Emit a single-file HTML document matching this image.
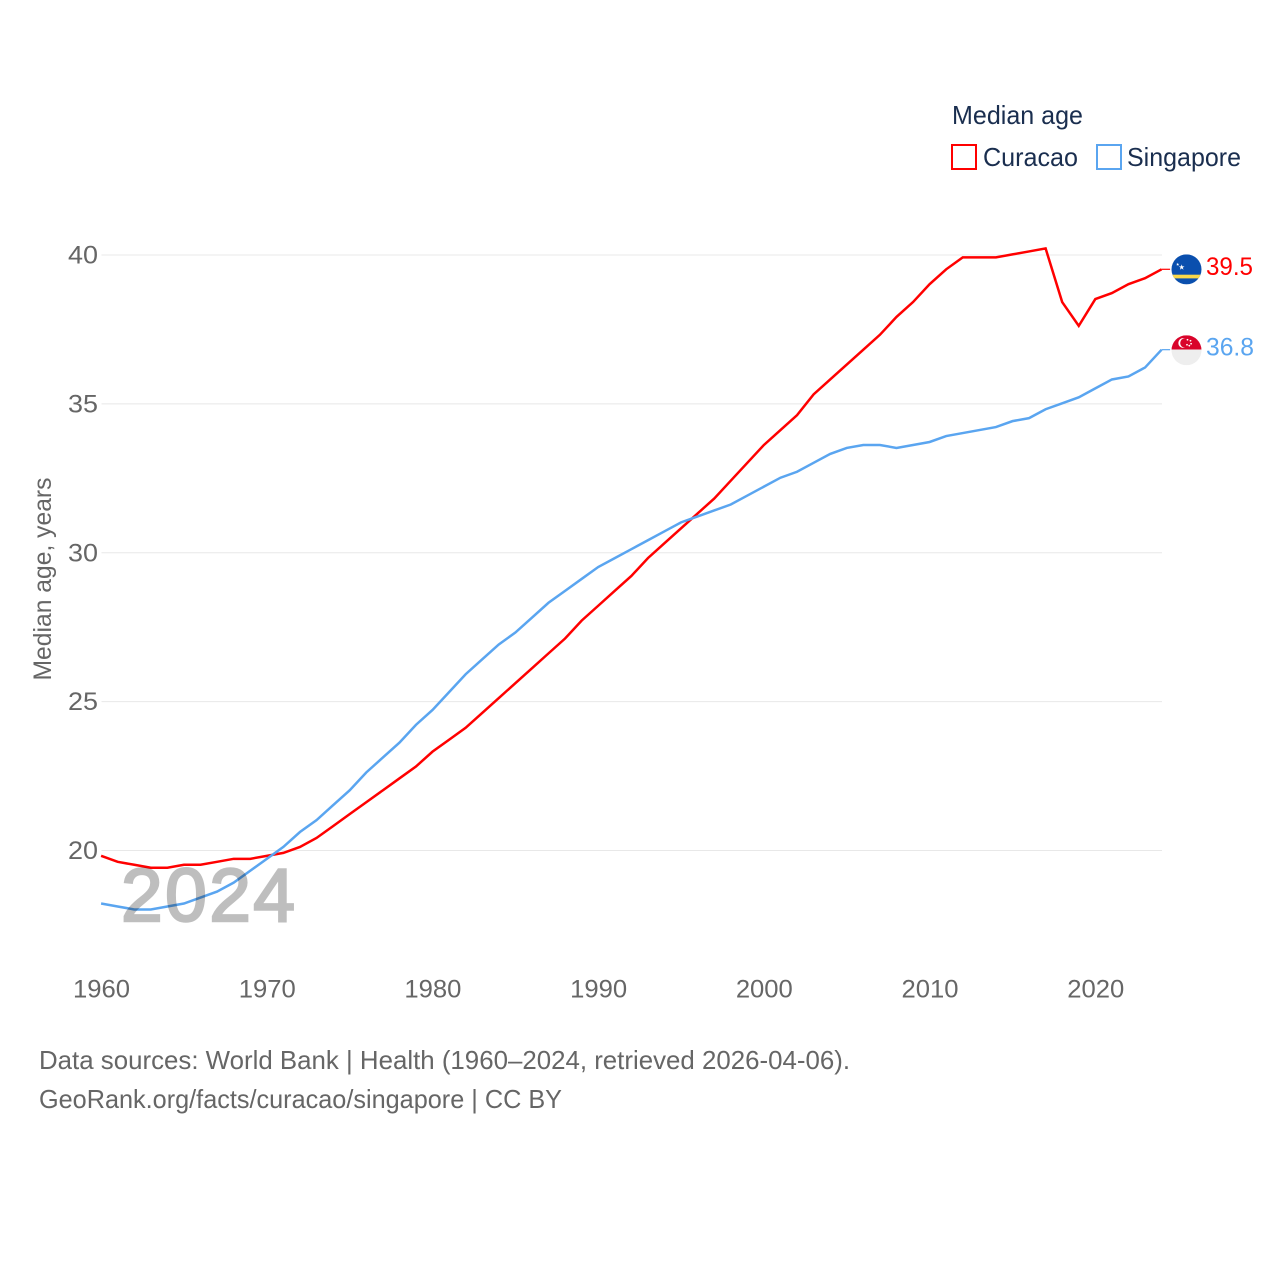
<!DOCTYPE html>
<html>
<head>
<meta charset="utf-8">
<title>Median age: Curacao and Singapore</title>
<style>
html,body{margin:0;padding:0;background:#fff;width:1280px;height:1280px;overflow:hidden}
svg{display:block}
text{font-family:"Liberation Sans",sans-serif}
</style>
</head>
<body>
<svg id="chart" xmlns="http://www.w3.org/2000/svg" width="1280" height="1280" viewBox="0 0 1280 1280">
  <defs>
    <clipPath id="flag-clip"><circle cx="0" cy="0" r="15"></circle></clipPath>
  </defs>
  <g id="grid"></g>
  <g id="y-ticks"></g>
  <g id="x-ticks"></g>
  <text transform="translate(51,579) rotate(-90)" text-anchor="middle" font-size="25" fill="#666" textLength="203" lengthAdjust="spacingAndGlyphs">Median age, years</text>
  <g id="series" transform="translate(-0.4,-0.6)"></g>
  <text id="year-label" x="121" y="921" font-size="75" fill="#000" stroke="#000" stroke-width="2.4" opacity="0.25" textLength="174" lengthAdjust="spacing">2024</text>
  <g id="flag-curacao">
    <g clip-path="url(#flag-clip)">
      <rect x="-15" y="-15" width="30" height="30" fill="#0a4fae"></rect>
      <rect x="-15" y="5.3" width="30" height="3.7" fill="#f9d84a"></rect>
      <polygon points="-4.8,-5 -4.1,-3 -2,-3 -3.7,-1.8 -3,0.3 -4.8,-1 -6.6,0.3 -5.9,-1.8 -7.6,-3 -5.5,-3" fill="#fff"></polygon>
      <polygon points="-8.8,-6.6 -8.4,-5.5 -7.2,-5.5 -8.2,-4.8 -7.8,-3.6 -8.8,-4.3 -9.8,-3.6 -9.4,-4.8 -10.4,-5.5 -9.2,-5.5" fill="#fff"></polygon>
    </g>
  </g>
  <g id="flag-singapore">
    <g clip-path="url(#flag-clip)">
      <rect x="-15" y="-15" width="30" height="14.3" fill="#d9042b"></rect>
      <rect x="-15" y="-0.7" width="30" height="15.7" fill="#eeeeee"></rect>
      <circle cx="-3.2" cy="-7.3" r="5" fill="#fff"></circle>
      <circle cx="-1.5" cy="-7.3" r="4.8" fill="#d9042b"></circle>
      <circle cx="1" cy="-10.5" r="0.9" fill="#fff"></circle>
      <circle cx="4" cy="-9.5" r="0.9" fill="#fff"></circle>
      <circle cx="4.6" cy="-6.5" r="0.9" fill="#fff"></circle>
      <circle cx="0.5" cy="-5.5" r="0.9" fill="#fff"></circle>
      <circle cx="2.8" cy="-4.6" r="0.9" fill="#fff"></circle>
    </g>
  </g>
  <text id="value-curacao" x="1206" font-size="25" fill="#ff0000" textLength="47" lengthAdjust="spacingAndGlyphs"></text>
  <text id="value-singapore" x="1206" font-size="25" fill="#5aa5f0" textLength="48" lengthAdjust="spacingAndGlyphs"></text>
  <g>
    <text x="952" y="124" font-size="26" fill="#1a2e4f" textLength="131" lengthAdjust="spacingAndGlyphs">Median age</text>
    <g>
      <rect x="952" y="145" width="24" height="24" fill="none" stroke="#ff0000" stroke-width="2"></rect>
      <text x="983" y="166" font-size="26" fill="#1a2e4f" textLength="95" lengthAdjust="spacingAndGlyphs">Curacao</text>
    </g>
    <g>
      <rect x="1097" y="145" width="24" height="24" fill="none" stroke="#5aa5f0" stroke-width="2"></rect>
      <text x="1127" y="166" font-size="26" fill="#1a2e4f" textLength="114" lengthAdjust="spacingAndGlyphs">Singapore</text>
    </g>
  </g>
  <text x="39" y="1069" font-size="26" fill="#666" textLength="811" lengthAdjust="spacingAndGlyphs">Data sources: World Bank | Health (1960–2024, retrieved 2026-04-06).</text>
  <text x="39" y="1108" font-size="26" fill="#666" textLength="523" lengthAdjust="spacingAndGlyphs">GeoRank.org/facts/curacao/singapore | CC BY</text>
</svg>
<script>
const startYear = 1960;
const curacaoValues = [19.8,19.6,19.5,19.4,19.4,19.5,19.5,19.6,19.7,19.7,19.8,19.9,20.1,20.4,20.8,21.2,21.6,22.0,22.4,22.8,23.3,23.7,24.1,24.6,25.1,25.6,26.1,26.6,27.1,27.7,28.2,28.7,29.2,29.8,30.3,30.8,31.3,31.8,32.4,33.0,33.6,34.1,34.6,35.3,35.8,36.3,36.8,37.3,37.9,38.4,39.0,39.5,39.9,39.9,39.9,40.0,40.1,40.2,38.4,37.6,38.5,38.7,39.0,39.2,39.5];
const singaporeValues = [18.2,18.1,18.0,18.0,18.1,18.2,18.4,18.6,18.9,19.3,19.7,20.1,20.6,21.0,21.5,22.0,22.6,23.1,23.6,24.2,24.7,25.3,25.9,26.4,26.9,27.3,27.8,28.3,28.7,29.1,29.5,29.8,30.1,30.4,30.7,31.0,31.2,31.4,31.6,31.9,32.2,32.5,32.7,33.0,33.3,33.5,33.6,33.6,33.5,33.6,33.7,33.9,34.0,34.1,34.2,34.4,34.5,34.8,35.0,35.2,35.5,35.8,35.9,36.2,36.8];
const yTickValues = [20,25,30,35,40];
const xTickValues = [1960,1970,1980,1990,2000,2010,2020];

const NS = 'http://www.w3.org/2000/svg';
function xScale(year) { return 101.5 + (year - 1960) * (1162 - 101.5) / 64; }
function yScale(v) { return 850.5 - (v - 20) * (850.5 - 255) / 20; }
function make(tag, attrs, parent) {
  const el = document.createElementNS(NS, tag);
  for (const k in attrs) el.setAttribute(k, attrs[k]);
  parent.appendChild(el);
  return el;
}

const gridG = document.getElementById('grid');
const yG = document.getElementById('y-ticks');
const xG = document.getElementById('x-ticks');
const seriesG = document.getElementById('series');

yTickValues.forEach(function (t) {
  const line = make('line', {x1: 101.5, x2: 1162, y1: yScale(t), y2: yScale(t), stroke: '#e8e8e8', 'stroke-width': 1}, gridG);
  
  
  const label = make('text', {x: 98, y: yScale(t) + 8.5, 'text-anchor': 'end', 'font-size': 25, fill: '#666', textLength: 30, lengthAdjust: 'spacingAndGlyphs'}, yG);
  
  
  label.textContent = t;
});

xTickValues.forEach(function (t) {
  const label = make('text', {x: xScale(t), y: 997.5, 'text-anchor': 'middle', 'font-size': 25, fill: '#666', textLength: 57, lengthAdjust: 'spacingAndGlyphs'}, xG);
  
  
  label.textContent = t;
});

function drawSeries(values, color, name) {
  const pts = values.map(function (v, i) { return xScale(startYear + i).toFixed(2) + ',' + yScale(v).toFixed(2); });
  const lastY = yScale(values[values.length - 1]);
  const lastX = xScale(startYear + values.length - 1);
  const line = make('polyline', {points: pts.join(' '), fill: 'none', stroke: color, 'stroke-width': 2.5, 'stroke-linejoin': 'miter'}, seriesG);
  
  
  const conn = make('line', {x1: lastX, x2: lastX + 8.5, y1: lastY, y2: lastY, stroke: color, 'stroke-width': 1.2}, seriesG);
  
  
  return lastY;
}

const yCur = drawSeries(curacaoValues, '#ff0000', 'curacao');
const ySin = drawSeries(singaporeValues, '#5aa5f0', 'singapore');

document.getElementById('flag-curacao').setAttribute('transform', 'translate(1186.5,' + (yCur - 0.5) + ')');
document.getElementById('flag-singapore').setAttribute('transform', 'translate(1186.5,' + ySin + ')');

const vc = document.getElementById('value-curacao');
vc.setAttribute('y', yCur + 5);
vc.textContent = curacaoValues[curacaoValues.length - 1].toFixed(1);
const vs = document.getElementById('value-singapore');
vs.setAttribute('y', ySin + 5);
vs.textContent = singaporeValues[singaporeValues.length - 1].toFixed(1);
</script>
</body>
</html>
